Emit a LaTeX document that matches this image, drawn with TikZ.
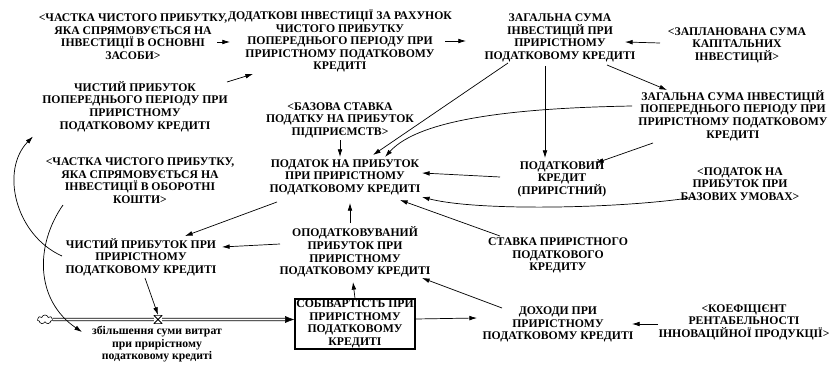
\documentclass[tikz,border=0pt]{standalone}
\usepackage{fontspec}
\setmainfont{Liberation Serif}
\usetikzlibrary{arrows.meta, calc, shapes.symbols}

\begin{document}
\begin{tikzpicture}[x=0.03cm, y=-0.03cm,
  var/.style={align=center, inner sep=1pt, font=\bfseries\fontsize{10}{10.7}\selectfont},
  arr/.style={-{Latex[length=6.5pt,width=4pt]}, line width=0.6pt},
  stock/.style={var, draw, line width=0.9pt, inner sep=0pt, minimum width=3.6cm, minimum height=1.5cm},
  pipe/.style={double, double distance=1.6pt, line width=0.5pt, -{Latex[length=8pt,width=6pt]}},
  valve/.style={fill=white, inner sep=0pt, minimum size=0.26cm,
    path picture={\draw[line width=0.9pt] (path picture bounding box.north west) -- (path picture bounding box.south east)
      -- (path picture bounding box.south west) -- (path picture bounding box.north east) -- cycle;}}]
\useasboundingbox (0,0) rectangle (833,366);

 %variables:
 \node[var] (chastkaos) at (133,36.5) {<ЧАСТКА ЧИСТОГО ПРИБУТКУ,\\ЯКА СПРЯМОВУЄТЬСЯ НА\\ІНВЕСТИЦІЇ В ОСНОВНІ\\ЗАСОБИ>};
 \node[var] (dodinv) at (340,41) {ДОДАТКОВІ ІНВЕСТИЦІЇ ЗА РАХУНОК\\ЧИСТОГО ПРИБУТКУ\\ПОПЕРЕДНЬОГО ПЕРІОДУ ПРИ\\ПРИРІСТНОМУ ПОДАТКОВОМУ\\КРЕДИТІ};
 \node[var] (zagsum) at (560,38) {ЗАГАЛЬНА СУМА\\ІНВЕСТИЦІЙ ПРИ\\ПРИРІСТНОМУ\\ПОДАТКОВОМУ КРЕДИТІ};
 \node[var] (zaplsum) at (737,45) {<ЗАПЛАНОВАНА СУМА\\КАПІТАЛЬНИХ\\ІНВЕСТИЦІЙ>};
 \node[var] (zagsumpop) at (733,115.5) {ЗАГАЛЬНА СУМА ІНВЕСТИЦІЙ\\ПОПЕРЕДНЬОГО ПЕРІОДУ ПРИ\\ПРИРІСТНОМУ ПОДАТКОВОМУ\\КРЕДИТІ};
 \node[var] (chpop) at (135,106.5) {ЧИСТИЙ ПРИБУТОК\\ПОПЕРЕДНЬОГО ПЕРІОДУ ПРИ\\ПРИРІСТНОМУ\\ПОДАТКОВОМУ КРЕДИТІ};
 \node[var] (bazst) at (340,120) {<БАЗОВА СТАВКА\\ПОДАТКУ НА ПРИБУТОК\\ПІДПРИЄМСТВ>};
 \node[var] (podatok) at (345,177) {ПОДАТОК НА ПРИБУТОК\\ПРИ ПРИРІСТНОМУ\\ПОДАТКОВОМУ КРЕДИТІ};
 \node[var] (podkred) at (562,178) {ПОДАТКОВИЙ\\КРЕДИТ\\(ПРИРІСТНИЙ)};
 \node[var] (podbaz) at (740,184) {<ПОДАТОК НА\\ПРИБУТОК ПРИ\\БАЗОВИХ УМОВАХ>};
 \node[var] (chastkaob) at (140,180.5) {<ЧАСТКА ЧИСТОГО ПРИБУТКУ,\\ЯКА СПРЯМОВУЄТЬСЯ НА\\ІНВЕСТИЦІЇ В ОБОРОТНІ\\КОШТИ>};
 \node[var] (stavka) at (558,255.5) {СТАВКА ПРИРІСТНОГО\\ПОДАТКОВОГО\\КРЕДИТУ};
 \node[var] (opodpr) at (355,252) {ОПОДАТКОВУВАНИЙ\\ПРИБУТОК ПРИ\\ПРИРІСТНОМУ\\ПОДАТКОВОМУ КРЕДИТІ};
 \node[var] (chpr) at (141,257) {ЧИСТИЙ ПРИБУТОК ПРИ\\ПРИРІСТНОМУ\\ПОДАТКОВОМУ КРЕДИТІ};
 \node[var] (dohody) at (558,324.5) {ДОХОДИ ПРИ\\ПРИРІСТНОМУ\\ПОДАТКОВОМУ КРЕДИТІ};
 \node[var] (koef) at (744,322) {<КОЕФІЦІЄНТ\\РЕНТАБЕЛЬНОСТІ\\ІННОВАЦІЙНОЇ ПРОДУКЦІЇ>};

 %stock and flow
 \node[stock] (sobiv) at (355,324) {СОБІВАРТІСТЬ ПРИ\\ПРИРІСТНОМУ\\ПОДАТКОВОМУ\\КРЕДИТІ};
 \node[cloud, draw, cloud puffs=7, aspect=1.7, inner sep=0pt, minimum width=0.45cm, minimum height=0.27cm, line width=0.5pt] (cloud) at (45,319.5) {};
 \draw[pipe] (cloud.east) -- ($(sobiv.west)+(0,-4.5)$);
 \node[valve] (valve) at (158,319.5) {};
 \node[var] (zbilsh) at (157,344.5) {збільшення суми витрат\\при прирістному\\податковому кредиті};

 %arrows
 \draw[arr] ($(chastkaos)+(84,5.5)$) -- ($(dodinv)+(-110,1)$);
 \draw[arr] ($(dodinv)+(105,0)$) -- ($(zagsum)+(-94,3)$);
 \draw[arr] ($(zaplsum)+(-77,-2)$) -- ($(zagsum)+(65,4)$);
 \draw[arr] ($(zagsum)+(47,27)$) -- ($(zagsumpop)+(-66,-25.5)$);
 \draw[arr] ($(zagsum)+(-15,28)$) -- ($(podkred)+(-17,-20)$);
 \draw[arr] ($(zagsumpop)+(-80,27.5)$) -- ($(podkred)+(34,-15)$);
 \draw[arr] ($(zagsum)+(-52,25)$) -- ($(podatok)+(28,-22)$);
 \draw[arr] ($(zagsumpop)+(-101,-9.5)$) .. controls ($(zagsumpop)+(-213,-7.5)$) and ($(podatok)+(75,-59)$) .. ($(podatok)+(40,-20)$);
 \draw[arr] ($(podkred)+(-62,-1)$) -- ($(podatok)+(77,-4)$);
 \draw[arr] ($(podbaz)+(-45,13)$) .. controls ($(podbaz)+(-110,24)$) and ($(podatok)+(135,35)$) .. ($(podatok)+(77,20)$);
 \draw[arr] ($(stavka)+(-58,-19.5)$) -- ($(podatok)+(55,23)$);
 \draw[arr] ($(opodpr)+(-5,-29)$) -- ($(podatok)+(5,26)$);
 \draw[arr] ($(bazst)+(0,20)$) -- ($(podatok)+(-5,-20)$);
 \draw[arr] ($(podatok)+(-68,25)$) -- ($(chpr)+(44,-21)$);
 \draw[arr] ($(opodpr)+(-75,-8)$) -- ($(chpr)+(81,-10)$);
 \draw[arr] ($(chpop)+(92,-24.5)$) -- ($(dodinv)+(-87,33)$);
 \draw[arr] ($(chpr)+(-79,-1)$) .. controls ($(chpr)+(-126,-22)$) and ($(chpop)+(-135,63.5)$) .. ($(chpop)+(-102,30)$);
 \draw[arr] ($(chastkaob)+(-77,24.5)$) .. controls ($(chastkaob)+(-105,64.5)$) and ($(zbilsh)+(-122,-44.5)$) .. ($(zbilsh)+(-75,-12.5)$);
 \draw[arr] ($(chpr)+(4,21)$) -- (valve.north);
 \draw[arr] (sobiv.north) -- ($(opodpr)+(-2,30)$);
 \draw[arr] ($(sobiv.east)+(0,-5)$) -- ($(dohody)+(-81,-6.5)$);
 \draw[arr] ($(dohody)+(-56,-16.5)$) -- ($(opodpr)+(67,26)$);
 \draw[arr] ($(koef)+(-86,2)$) -- ($(dohody)+(74,-0.5)$);
\end{tikzpicture}
\end{document}
